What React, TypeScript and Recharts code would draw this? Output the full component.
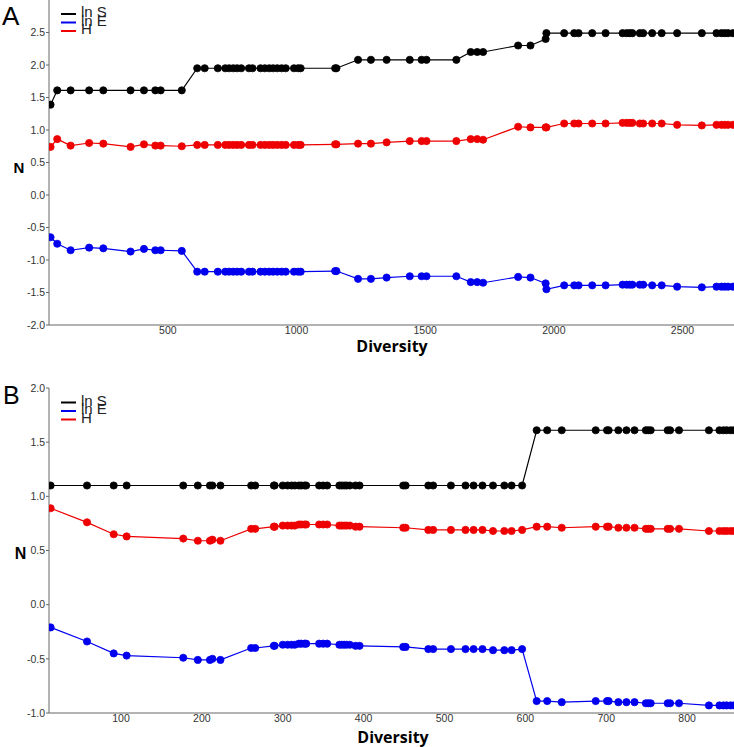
import React from "react";
import { LineChart, Line, XAxis, YAxis } from "recharts";

// Panel A
const aDiversity = [
  44, 70, 122, 194, 249, 355, 407, 451, 472, 554,
  614, 643, 694, 723, 738, 754, 769, 785,
  815, 829, 860, 877, 894, 909, 925, 942, 958, 990, 1006, 1016,
  1150, 1155,
  1239, 1289, 1350, 1440, 1486, 1505, 1621,
  1677, 1702, 1725,
  1861, 1909,
  1968, 1971,
  2040, 2079, 2096, 2149, 2201,
  2267, 2283, 2295, 2305, 2334, 2347, 2382, 2419,
  2479, 2575,
  2632, 2651, 2664, 2677, 2696,
];
const aLnS = [
  1.39, 1.61, 1.61, 1.61, 1.61, 1.61, 1.61, 1.61, 1.61, 1.61,
  1.95, 1.95, 1.95, 1.95, 1.95, 1.95, 1.95, 1.95,
  1.95, 1.95, 1.95, 1.95, 1.95, 1.95, 1.95, 1.95, 1.95, 1.95, 1.95, 1.95,
  1.95, 1.95,
  2.08, 2.08, 2.08, 2.08, 2.08, 2.08, 2.08,
  2.2, 2.2, 2.2,
  2.3, 2.3,
  2.4, 2.49,
  2.49, 2.49, 2.49, 2.49, 2.49,
  2.49, 2.49, 2.49, 2.49, 2.49, 2.49, 2.49, 2.49,
  2.49, 2.49,
  2.49, 2.49, 2.49, 2.49, 2.49,
];
const aLnE = [
  -0.65, -0.75, -0.85, -0.81, -0.82, -0.87, -0.83, -0.85, -0.85, -0.86,
  -1.18, -1.18, -1.18, -1.18, -1.18, -1.18, -1.18, -1.18,
  -1.18, -1.18, -1.18, -1.18, -1.18, -1.18, -1.18, -1.18, -1.18, -1.18, -1.18, -1.18,
  -1.17, -1.17,
  -1.29, -1.29, -1.27, -1.25, -1.25, -1.25, -1.25,
  -1.34, -1.34, -1.35,
  -1.26, -1.27,
  -1.36, -1.45,
  -1.39, -1.39, -1.39, -1.39, -1.39,
  -1.38, -1.38, -1.38, -1.38, -1.38, -1.38, -1.39, -1.39,
  -1.41, -1.42,
  -1.41, -1.41, -1.41, -1.41, -1.41,
];
const aH = [
  0.74, 0.86, 0.76, 0.8, 0.79, 0.74, 0.78, 0.76, 0.76, 0.75,
  0.77, 0.77, 0.77, 0.77, 0.77, 0.77, 0.77, 0.77,
  0.77, 0.77, 0.77, 0.77, 0.77, 0.77, 0.77, 0.77, 0.77, 0.77, 0.77, 0.77,
  0.78, 0.78,
  0.79, 0.79, 0.81, 0.83, 0.83, 0.83, 0.83,
  0.86, 0.86, 0.85,
  1.05, 1.04,
  1.04, 1.04,
  1.1, 1.1, 1.1, 1.1, 1.1,
  1.11, 1.11, 1.11, 1.11, 1.1, 1.1, 1.1, 1.1,
  1.08, 1.07,
  1.08, 1.08, 1.08, 1.08, 1.08,
];

// Panel B
const bDiversity = [
  13, 58, 91, 107, 177, 195, 210, 213, 223,
  261, 266, 289, 290, 300, 306, 311, 315, 320, 323, 327, 329,
  345, 350, 355,
  370, 373, 376, 379, 383, 390, 395,
  449, 452, 480, 486, 508, 526, 536, 547, 560, 574, 583, 596,
  614, 627, 645, 687, 701, 703, 715, 725, 735, 749, 752, 755, 776, 779, 790,
  827, 840, 845, 849, 854, 858,
];
const bLnS = [
  1.1, 1.1, 1.1, 1.1, 1.1, 1.1, 1.1, 1.1, 1.1,
  1.1, 1.1, 1.1, 1.1, 1.1, 1.1, 1.1, 1.1, 1.1, 1.1, 1.1, 1.1,
  1.1, 1.1, 1.1,
  1.1, 1.1, 1.1, 1.1, 1.1, 1.1, 1.1,
  1.1, 1.1, 1.1, 1.1, 1.1, 1.1, 1.1, 1.1, 1.1, 1.1, 1.1, 1.1,
  1.61, 1.61, 1.61, 1.61, 1.61, 1.61, 1.61, 1.61, 1.61, 1.61, 1.61, 1.61, 1.61, 1.61, 1.61,
  1.61, 1.61, 1.61, 1.61, 1.61, 1.61,
];
const bLnE = [
  -0.21, -0.34, -0.45, -0.47, -0.49, -0.51, -0.51, -0.5, -0.51,
  -0.4, -0.4, -0.38, -0.38, -0.37, -0.37, -0.37, -0.37, -0.36, -0.36, -0.36, -0.36,
  -0.36, -0.36, -0.36,
  -0.37, -0.37, -0.37, -0.37, -0.37, -0.38, -0.38,
  -0.39, -0.39, -0.41, -0.41, -0.41, -0.41, -0.41, -0.41, -0.42, -0.42, -0.42, -0.41,
  -0.89, -0.89, -0.9, -0.89, -0.89, -0.89, -0.9, -0.9, -0.9, -0.91, -0.91, -0.91, -0.91, -0.91, -0.91,
  -0.93, -0.93, -0.93, -0.93, -0.93, -0.93,
];
const bH = [
  0.89, 0.76, 0.65, 0.63, 0.61, 0.59, 0.59, 0.6, 0.59,
  0.7, 0.7, 0.72, 0.72, 0.73, 0.73, 0.73, 0.73, 0.74, 0.74, 0.74, 0.74,
  0.74, 0.74, 0.74,
  0.73, 0.73, 0.73, 0.73, 0.73, 0.72, 0.72,
  0.71, 0.71, 0.69, 0.69, 0.69, 0.69, 0.69, 0.69, 0.68, 0.68, 0.68, 0.69,
  0.72, 0.72, 0.71, 0.72, 0.72, 0.72, 0.71, 0.71, 0.71, 0.7, 0.7, 0.7, 0.7, 0.7, 0.7,
  0.68, 0.68, 0.68, 0.68, 0.68, 0.68,
];

const aYTicks = [-2, -1.5, -1, -0.5, 0, 0.5, 1, 1.5, 2, 2.5];
const aXTicks = [500, 1000, 1500, 2000, 2500];
const bYTicks = [-1, -0.5, 0, 0.5, 1, 1.5, 2];
const bXTicks = [100, 200, 300, 400, 500, 600, 700, 800];

const seriesNames = ["ln S", "ln E", "H"];
const BLACK = "#000000";
const BLUE = "#0000ee";
const RED = "#ee0000";

const toRows = (xs: number[], s: number[], e: number[], h: number[]) =>
  xs.map((x, i) => ({ x, lnS: s[i], lnE: e[i], H: h[i] }));

const aData = toRows(aDiversity, aLnS, aLnE, aH);
const bData = toRows(bDiversity, bLnS, bLnE, bH);

const tickStyle = { fontSize: 10.5, fill: "#333" };
const axisColor = "#666";

const Panel = ({
  data,
  height,
  margin,
  xDomain,
  xTicks,
  yDomain,
  yTicks,
}: {
  data: any[];
  height: number;
  margin: any;
  xDomain: number[];
  xTicks: number[];
  yDomain: number[];
  yTicks: number[];
}) => (
  <LineChart width={734} height={height} data={data} margin={margin}>
    <XAxis
      type="number"
      dataKey="x"
      domain={xDomain}
      ticks={xTicks}
      allowDataOverflow
      height={20}
      tickLine={false}
      tickSize={2}
      tickMargin={0}
      axisLine={{ stroke: axisColor }}
      tick={tickStyle}
    />
    <YAxis
      type="number"
      domain={yDomain}
      ticks={yTicks}
      allowDataOverflow
      width={49}
      tickSize={3}
      tickMargin={1}
      axisLine={{ stroke: axisColor }}
      tickLine={{ stroke: axisColor }}
      tick={tickStyle}
      tickFormatter={(v) => v.toFixed(1)}
    />
    <Line
      dataKey="lnS"
      stroke={BLACK}
      strokeWidth={1.2}
      dot={{ r: 3.6, fill: BLACK, stroke: BLACK, strokeWidth: 0.8 }}
      isAnimationActive={false}
    />
    <Line
      dataKey="lnE"
      stroke={BLUE}
      strokeWidth={1.2}
      dot={{ r: 3.6, fill: BLUE, stroke: BLUE, strokeWidth: 0.8 }}
      isAnimationActive={false}
    />
    <Line
      dataKey="H"
      stroke={RED}
      strokeWidth={1.2}
      dot={{ r: 3.6, fill: RED, stroke: RED, strokeWidth: 0.8 }}
      isAnimationActive={false}
    />
  </LineChart>
);

const LegendBox = ({ top }: { top: number }) => {
  const colors = [BLACK, BLUE, RED];
  return (
    <g>
      {seriesNames.map((name, i) => {
        const y = top + i * 8.5;
        return (
          <g key={name}>
            <line x1={61} x2={76} y1={y} y2={y} stroke={colors[i]} strokeWidth={2} />
            <text x={81} y={y + 3} fontSize={15} fill="#222">
              {name}
            </text>
          </g>
        );
      })}
    </g>
  );
};

export default function App() {
  return (
    <div
      style={{
        position: "absolute",
        left: 0,
        top: 0,
        width: 734,
        height: 747,
        background: "#fff",
        fontFamily: "'Liberation Sans', Arial, sans-serif",
      }}
    >
      <div style={{ position: "absolute", left: 0, top: 0 }}>
        <Panel
          data={aData}
          height={370}
          margin={{ top: 0, right: 0, bottom: 25, left: 0 }}
          xDomain={[38, 2700]}
          xTicks={aXTicks}
          yDomain={[-2, 3]}
          yTicks={aYTicks}
        />
      </div>
      <div style={{ position: "absolute", left: 0, top: 370 }}>
        <Panel
          data={bData}
          height={377}
          margin={{ top: 18, right: 0, bottom: 14, left: 0 }}
          xDomain={[11, 858]}
          xTicks={bXTicks}
          yDomain={[-1, 2]}
          yTicks={bYTicks}
        />
      </div>
      <svg
        width={734}
        height={747}
        style={{ position: "absolute", left: 0, top: 0, pointerEvents: "none" }}
      >
        <text x={2} y={25} fontSize={26} fill="#000">A</text>
        <text x={3} y={404} fontSize={25} fill="#000">B</text>
        <text x={19} y={173} fontSize={15} fontWeight="bold" textAnchor="middle" fill="#000">N</text>
        <text x={20.5} y={559} fontSize={16} fontWeight="bold" textAnchor="middle" fill="#000">N</text>
        <text
          x={392}
          y={352}
          fontSize={16}
          fontWeight="bold"
          textAnchor="middle"
          fontFamily="'Open Sans', sans-serif"
          fill="#000"
        >
          Diversity
        </text>
        <text
          x={393}
          y={742.5}
          fontSize={16}
          fontWeight="bold"
          textAnchor="middle"
          fontFamily="'Open Sans', sans-serif"
          fill="#000"
        >
          Diversity
        </text>
        <LegendBox top={14} />
        <LegendBox top={402.5} />
      </svg>
    </div>
  );
}
